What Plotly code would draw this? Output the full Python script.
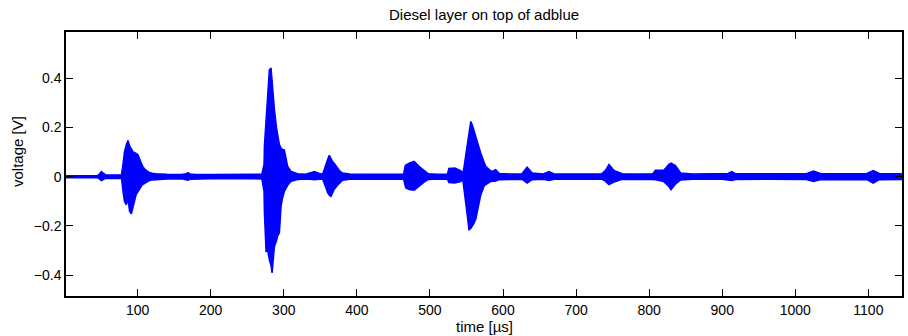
import plotly.graph_objects as go

time_us = [2, 45, 48, 50.4, 53, 56, 60, 78, 80, 82, 84.5, 86.8, 89, 91.4, 94, 98, 100.4, 105, 107, 110,
           114, 116, 120, 125, 140, 160, 166, 169, 172, 180, 200, 230, 260, 270, 273, 273.5, 275.8, 278,
           280.3, 282.6, 284, 284.9, 287.2, 290, 291.7, 294, 296.3, 298, 300.8, 303, 305.3, 310, 319,
           330, 336, 342, 348, 353, 355.5, 357.8, 360, 362.3, 364.6, 367, 369, 373.6, 376, 380.5, 390,
           420, 450, 464, 466, 467, 471.6, 478.4, 485, 492, 498, 510, 524, 526, 534, 542, 545, 546.7,
           549, 553.5, 555.9, 558, 560, 562.7, 567, 569.5, 574, 576.4, 583, 585.4, 590, 595, 610, 626,
           633, 640, 655, 663, 670, 700, 735, 740, 745, 752, 763, 780, 805, 808.6, 820, 827, 830, 836,
           843, 860, 900, 908, 913, 918, 960, 1015, 1025, 1035, 1080, 1098, 1106.7, 1115, 1146]

upper_v = [0.004, 0.004, 0.012, 0.021, 0.014, 0.008, 0.007, 0.008, 0.05, 0.10, 0.13, 0.147, 0.125, 0.11,
           0.10, 0.095, 0.089, 0.055, 0.042, 0.03, 0.02, 0.017, 0.014, 0.012, 0.010, 0.009, 0.012, 0.016,
           0.011, 0.009, 0.009, 0.010, 0.009, 0.010, 0.05, 0.123, 0.231, 0.33, 0.434, 0.441, 0.38, 0.353,
           0.272, 0.20, 0.163, 0.13, 0.116, 0.11, 0.109, 0.07, 0.042, 0.021, 0.012, 0.010, 0.016, 0.021,
           0.014, 0.010, 0.03, 0.055, 0.07, 0.087, 0.07, 0.06, 0.055, 0.035, 0.025, 0.015, 0.011, 0.010,
           0.010, 0.010, 0.042, 0.047, 0.055, 0.062, 0.042, 0.026, 0.012, 0.010, 0.011, 0.033, 0.035,
           0.025, 0.014, 0.04, 0.089, 0.177, 0.224, 0.21, 0.19, 0.163, 0.115, 0.096, 0.06, 0.042, 0.024,
           0.021, 0.028, 0.013, 0.011, 0.012, 0.039, 0.015, 0.011, 0.021, 0.011, 0.011, 0.012, 0.025,
           0.049, 0.025, 0.012, 0.011, 0.012, 0.026, 0.026, 0.05, 0.055, 0.045, 0.015, 0.011, 0.012,
           0.013, 0.021, 0.012, 0.012, 0.012, 0.023, 0.012, 0.012, 0.013, 0.025, 0.013, 0.012]

lower_v = [-0.004, -0.004, -0.010, -0.016, -0.012, -0.007, -0.006, -0.007, -0.06, -0.10, -0.114, -0.09,
           -0.14, -0.151, -0.12, -0.073, -0.06, -0.039, -0.032, -0.026, -0.019, -0.016, -0.013, -0.011,
           -0.009, -0.008, -0.011, -0.014, -0.010, -0.008, -0.008, -0.008, -0.008, -0.009, -0.06, -0.147,
           -0.303, -0.30, -0.337, -0.36, -0.39, -0.36, -0.283, -0.26, -0.24, -0.228, -0.12, -0.09, -0.06,
           -0.046, -0.035, -0.019, -0.011, -0.009, -0.010, -0.012, -0.010, -0.009, -0.03, -0.046, -0.065,
           -0.075, -0.08, -0.065, -0.052, -0.035, -0.026, -0.014, -0.010, -0.009, -0.009, -0.010, -0.035,
           -0.046, -0.052, -0.055, -0.039, -0.022, -0.011, -0.009, -0.010, -0.024, -0.026, -0.02, -0.012,
           -0.04, -0.093, -0.215, -0.21, -0.2, -0.19, -0.174, -0.107, -0.075, -0.039, -0.032, -0.02,
           -0.018, -0.018, -0.012, -0.010, -0.010, -0.026, -0.012, -0.010, -0.015, -0.010, -0.010, -0.010,
           -0.018, -0.032, -0.022, -0.011, -0.010, -0.011, -0.012, -0.02, -0.04, -0.053, -0.03, -0.013,
           -0.010, -0.010, -0.012, -0.015, -0.011, -0.010, -0.011, -0.019, -0.011, -0.011, -0.012,
           -0.026, -0.012, -0.011]

x_ticks = [100, 200, 300, 400, 500, 600, 700, 800, 900, 1000, 1100]
y_ticks = [-0.4, -0.2, 0, 0.2, 0.4]

title_text = "Diesel layer on top of adblue"
x_label = "time [µs]"
y_label = "voltage [V]"

poly_x = time_us + time_us[::-1]
poly_y = upper_v + lower_v[::-1]

fig = go.Figure()
fig.add_trace(go.Scatter(
    x=poly_x, y=poly_y, mode="lines", fill="toself",
    fillcolor="#0000ff", line=dict(color="#0000ff", width=1.5),
    hoverinfo="skip", showlegend=False,
))

font = "Liberation Sans, Arial, Helvetica, sans-serif"
axis_common = dict(
    showline=True, linecolor="black", linewidth=1.5, mirror="ticks",
    ticks="inside", ticklen=7, tickwidth=1, tickcolor="black",
    showgrid=False, zeroline=False,
    tickfont=dict(family=font, size=14, color="black"),
)

fig.update_layout(
    width=908, height=336,
    margin=dict(l=66, r=4, t=32, b=40),
    paper_bgcolor="white", plot_bgcolor="white",
    showlegend=False,
    xaxis=dict(range=[2, 1146], tickvals=x_ticks, ticktext=[str(v) for v in x_ticks], **axis_common),
    yaxis=dict(range=[-0.484, 0.587], tickvals=y_ticks,
               ticktext=["−0.4", "−0.2", "0", "0.2", "0.4"], **axis_common),
    annotations=[
        dict(text=title_text, xref="paper", yref="paper", x=0.5, y=1, yshift=18,
             showarrow=False, xanchor="center", yanchor="middle",
             font=dict(family=font, size=15, color="black")),
        dict(text=x_label, xref="paper", yref="paper", x=0.5, y=0, yshift=-30,
             showarrow=False, xanchor="center", yanchor="middle",
             font=dict(family=font, size=15, color="black")),
        dict(text=y_label, xref="paper", yref="paper", x=0, y=0.5, xshift=-49, yshift=12,
             showarrow=False, xanchor="center", yanchor="middle", textangle=-90,
             font=dict(family=font, size=15, color="black")),
    ],
)

fig.write_html("out.html")
